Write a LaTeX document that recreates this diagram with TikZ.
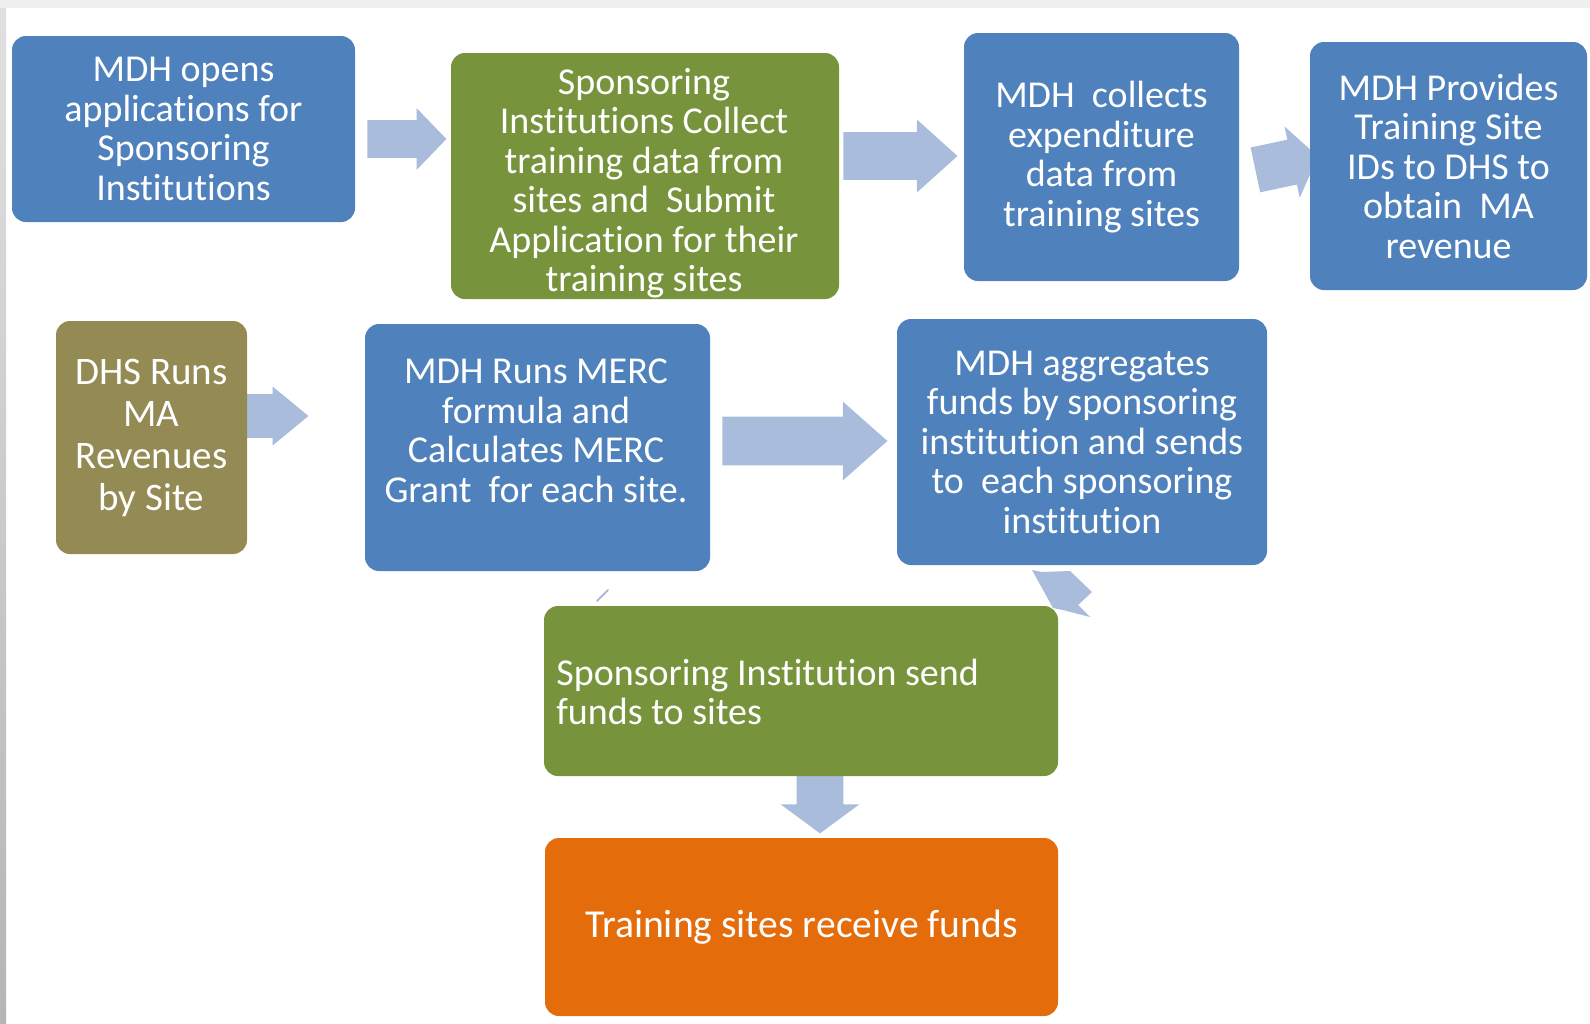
\documentclass[tikz,border=0pt]{standalone}
\usepackage{fontspec}
\setmainfont{Carlito}[Ligatures=NoCommon]
\usetikzlibrary{shapes.arrows}
\definecolor{mdhblue}{HTML}{4F81BD}
\definecolor{mdhgreen}{HTML}{77933C}
\definecolor{mdholive}{HTML}{948A54}
\definecolor{mdhorange}{HTML}{E46C0A}
\definecolor{arrowfill}{HTML}{A9BCDC}
\pgfdeclarelayer{paper}
\pgfdeclarelayer{back}
\pgfsetlayers{paper,back,main}
\tikzset{
  stepbox/.style={rounded corners=7pt, inner sep=0pt, text=white,
    font=\fontsize{19pt}{19.75pt}\selectfont, align=center},
  boxtext/.style={inner sep=0pt, text=white,
    font=\fontsize{19pt}{19.75pt}\selectfont, align=center},
  blockarrow/.style={single arrow, fill=arrowfill, draw=none, inner xsep=0pt,
    anchor=tail}
}
\begin{document}
\begin{tikzpicture}[x=0.5pt,y=-0.5pt]
  % page background with the grey top band and left edge strip
  \begin{pgfonlayer}{paper}
    \fill[white] (0,0) rectangle (1590,1023);
    \fill[black!6] (0,0) rectangle (1590,8);
    \shade[top color=black!12, bottom color=black!29] (0,8) rectangle (6,1023);
  \end{pgfonlayer}
  \useasboundingbox (0,0) rectangle (1590,1023);

  % process boxes
  \node[stepbox, fill=mdhblue, minimum width=171.5pt, minimum height=93pt]
    (open) at (183.5,129) {MDH opens\\applications for\\Sponsoring\\Institutions};
  \node[stepbox, fill=mdhgreen, minimum width=194pt, minimum height=123pt]
    (collect) at (645,176) {};
  \node[boxtext] (collectT) at (644,183)
    {Sponsoring\\Institutions Collect\\training data from\\sites and~ Submit\\Application for their\\training sites};
  \node[stepbox, fill=mdhblue, minimum width=137.5pt, minimum height=124pt]
    (expend) at (1101.5,157) {MDH~ collects\\expenditure\\data from\\training sites};
  \node[stepbox, fill=mdhblue, minimum width=138.5pt, minimum height=124pt]
    (ids) at (1448.5,166) {MDH Provides\\Training Site\\IDs to DHS to\\obtain~ MA\\revenue};
  \node[stepbox, fill=mdholive, minimum width=95.5pt, minimum height=116.5pt,
    font=\fontsize{19.5pt}{21pt}\selectfont]
    (dhs) at (151.5,437.5) {DHS Runs\\MA\\Revenues\\by Site};
  \node[stepbox, fill=mdhblue, minimum width=172.5pt, minimum height=123.5pt]
    (merc) at (537.5,447.5) {};
  \node[boxtext] (mercT) at (536,431)
    {MDH Runs MERC\\formula and\\Calculates MERC\\Grant~ for each site.};

  % partly hidden arrow from the sponsoring institution box up to the aggregation box
  \fill[arrowfill] (1032,570) -- (1042,572) -- (1070,571) -- (1092,592)
    -- (1078,605) -- (1090,617) -- (1063,610) -- (1053,608) -- cycle;

  \node[stepbox, fill=mdhblue, minimum width=185pt, minimum height=123pt]
    (aggr) at (1082,442) {MDH aggregates\\funds by sponsoring\\institution and sends\\to~ each sponsoring\\institution};
  \node[stepbox, fill=mdhgreen, minimum width=257pt, minimum height=85pt]
    (send) at (801,691) {};
  \node[boxtext, align=left, anchor=west] (sendT) at (556,692)
    {Sponsoring Institution send\\funds to sites};
  \node[stepbox, fill=mdhorange, minimum width=256.5pt, minimum height=89pt,
    font=\fontsize{19.8pt}{20pt}\selectfont]
    (receive) at (801.5,927) {Training sites receive funds};

  % block arrows between the steps (placed by their tails; body half-width = inner ysep)
  \begin{pgfonlayer}{back}
    \node[blockarrow, inner ysep=9.25pt, minimum height=39.5pt,
      single arrow head extend=6pt, single arrow tip angle=92] (a1) at (367,139) {};
    \node[blockarrow, inner ysep=11.75pt, minimum height=57pt,
      single arrow head extend=6.25pt, single arrow tip angle=84] (a2) at (843,156) {};
    \node[blockarrow, inner ysep=11.25pt, minimum height=32pt,
      single arrow head extend=6.75pt, single arrow tip angle=108, rotate=12] (a3) at (1255,170) {};
    \node[blockarrow, inner ysep=10.75pt, minimum height=31pt,
      single arrow head extend=3.75pt, single arrow tip angle=79] (a4) at (246,416) {};
    \node[blockarrow, inner ysep=12pt, minimum height=82.5pt,
      single arrow head extend=7.5pt, single arrow tip angle=83] (a5) at (722,441) {};
    \node[blockarrow, inner ysep=11.5pt, minimum height=31pt,
      single arrow head extend=8pt, single arrow tip angle=107, rotate=-90] (a7) at (820,771) {};
  \end{pgfonlayer}

  % small stray sliver of an arrow below the MERC box
  \coordinate (sliverA) at (597,601);
  \coordinate (sliverB) at (608,590);
  \draw[arrowfill, line width=1pt, line cap=round] (sliverA) -- (sliverB);
\end{tikzpicture}
\end{document}
